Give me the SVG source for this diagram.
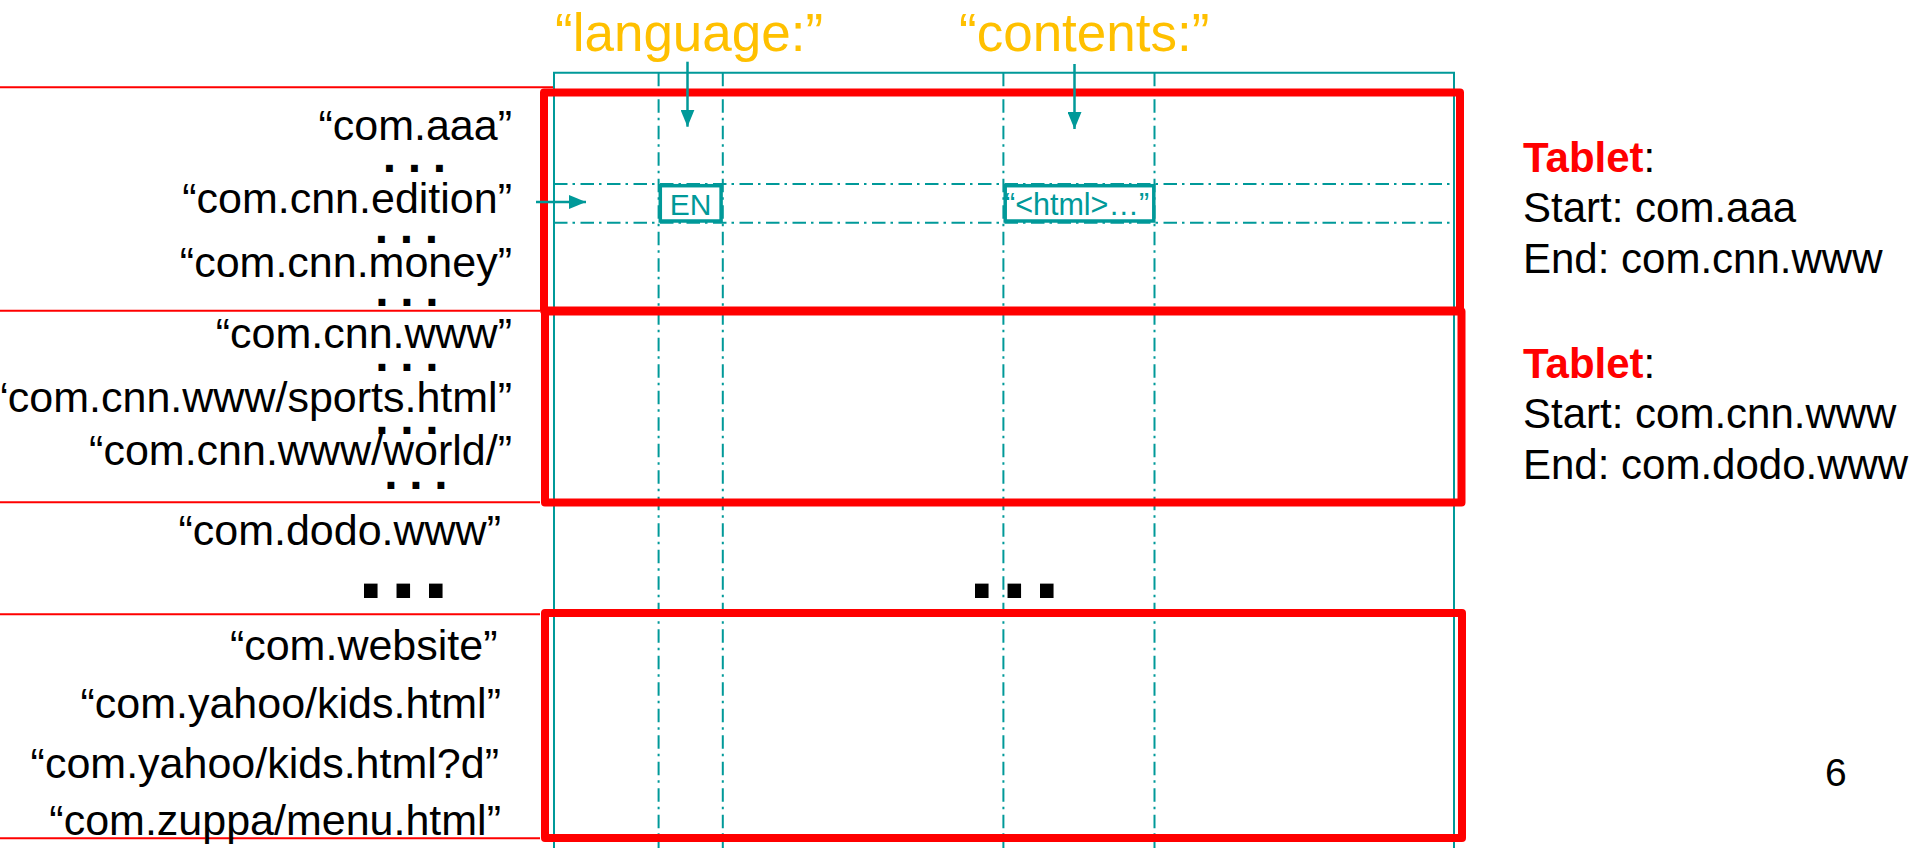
<svg xmlns="http://www.w3.org/2000/svg" width="1917" height="848" viewBox="0 0 1917 848">
<style>
.lbl{font-family:"Liberation Sans",Arial,sans-serif;font-size:43px;fill:#000;text-anchor:end}
.side{font-family:"Liberation Sans",Arial,sans-serif;font-size:42px;fill:#000}
.tb{fill:#FF0000;font-weight:bold}
.title{font-family:"Liberation Sans",Arial,sans-serif;font-size:53px;fill:#FFC000}
.cell{font-family:"Liberation Sans",Arial,sans-serif;font-size:30px;fill:#009999}
.sd{font-family:"Liberation Sans",Arial,sans-serif;font-weight:bold;font-size:48px;letter-spacing:11.7px;fill:#000}
.bd{font-family:"Liberation Sans",Arial,sans-serif;font-weight:bold;font-size:96px;letter-spacing:5.8px;fill:#000}
.teal{stroke:#009999;stroke-width:2;fill:none}
.dd{stroke-dasharray:13.5 5 2.5 5.5}
.cbox{stroke:#009999;stroke-width:3.5;fill:#fff}
.redbox{fill:none;stroke:#FF0000;stroke-width:8;stroke-linejoin:round}
.redline{stroke:#FF0000;stroke-width:2}
.arr{stroke:#009999;stroke-width:2.5;fill:none;marker-end:url(#ah)}
</style>
<defs>
<marker id="ah" markerUnits="userSpaceOnUse" markerWidth="17" markerHeight="14" refX="17" refY="7" orient="auto">
<path d="M0,0 L17,7 L0,14 z" fill="#009999"/>
</marker>
</defs>
<rect width="1917" height="848" fill="#fff"/>

<g id="row-separators">
<line class="redline" x1="0" y1="87.3" x2="553" y2="87.3"/>
<line class="redline" x1="0" y1="310.7" x2="540" y2="310.7"/>
<line class="redline" x1="0" y1="502.3" x2="540" y2="502.3"/>
<line class="redline" x1="0" y1="614.3" x2="540" y2="614.3"/>
<line class="redline" x1="0" y1="838.3" x2="540" y2="838.3"/>
</g>

<g id="table-grid">
<path class="teal" d="M554,848 V72.7 H1454 V848"/>
<line class="teal dd" x1="658.6" y1="72.7" x2="658.6" y2="848"/>
<line class="teal dd" x1="722.8" y1="72.7" x2="722.8" y2="848"/>
<line class="teal dd" x1="1003.4" y1="72.7" x2="1003.4" y2="848"/>
<line class="teal dd" x1="1154.5" y1="72.7" x2="1154.5" y2="848"/>
<line class="teal dd" x1="554" y1="184" x2="1454" y2="184"/>
<line class="teal dd" x1="554" y1="222.7" x2="1454" y2="222.7"/>
</g>

<g id="cell-en">
<rect class="cbox" x="660.3" y="185.7" width="60.8" height="35.3"/>
<text class="cell" x="690.5" y="215" text-anchor="middle">EN</text>
</g>
<g id="cell-html">
<rect class="cbox" x="1005.2" y="185.7" width="148.6" height="35.3"/>
<text class="cell" x="1005" y="215" style="font-size:30.5px">“&lt;html&gt;…”</text>
</g>

<g id="col-language"><text class="title" x="555" y="51">“language:”</text></g>
<g id="col-contents"><text class="title" x="959" y="51">“contents:”</text></g>

<g id="row-keys">
<text class="lbl" x="512" y="140">“com.aaa”</text>
<text class="lbl" x="512" y="213">“com.cnn.edition”</text>
<text class="lbl" x="512" y="277">“com.cnn.money”</text>
<text class="lbl" x="512" y="348">“com.cnn.www”</text>
<text class="lbl" x="512" y="412">“com.cnn.www/sports.html”</text>
<text class="lbl" x="512" y="465">“com.cnn.www/world/”</text>
<text class="lbl" x="501" y="545">“com.dodo.www”</text>
<text class="lbl" x="497.5" y="660">“com.website”</text>
<text class="lbl" x="501" y="718">“com.yahoo/kids.html”</text>
<text class="lbl" x="499" y="778">“com.yahoo/kids.html?d”</text>
<text class="lbl" x="501" y="835">“com.zuppa/menu.html”</text>
</g>

<g id="ellipses">
<text class="sd" x="382.7" y="171.7">...</text>
<text class="sd" x="374.7" y="242.7">...</text>
<text class="sd" x="375.3" y="306">...</text>
<text class="sd" x="375.3" y="370.7">...</text>
<text class="sd" x="375.3" y="434">...</text>
<text class="sd" x="384.2" y="489">...</text>
<text class="bd" x="357.5" y="598">...</text>
<text class="bd" x="968.5" y="598">...</text>
</g>

<g id="tablet-box-1"><rect class="redbox" x="544" y="92.5" width="916" height="218"/></g>
<g id="tablet-box-2"><rect class="redbox" x="545" y="311.5" width="916.5" height="191"/></g>
<g id="tablet-box-3"><rect class="redbox" x="545" y="613" width="917" height="225"/></g>

<g id="tablet-info-1">
<text class="side" x="1523" y="171.7"><tspan class="tb">Tablet</tspan>:</text>
<text class="side" x="1523" y="221.7">Start: com.aaa</text>
<text class="side" x="1523" y="273">End: com.cnn.www</text>
</g>
<g id="tablet-info-2">
<text class="side" x="1523" y="378.3"><tspan class="tb">Tablet</tspan>:</text>
<text class="side" x="1523" y="428.3">Start: com.cnn.www</text>
<text class="side" x="1523" y="479.3">End: com.dodo.www</text>
</g>

<g id="page-number"><text class="side" x="1825" y="786" style="font-size:39px">6</text></g>

<g id="connectors">
<line class="arr" x1="536" y1="202" x2="586" y2="202"/>
<line class="arr" x1="687.5" y1="61.7" x2="687.5" y2="126.7"/>
<line class="arr" x1="1074.5" y1="64" x2="1074.5" y2="129"/>
</g>
</svg>
